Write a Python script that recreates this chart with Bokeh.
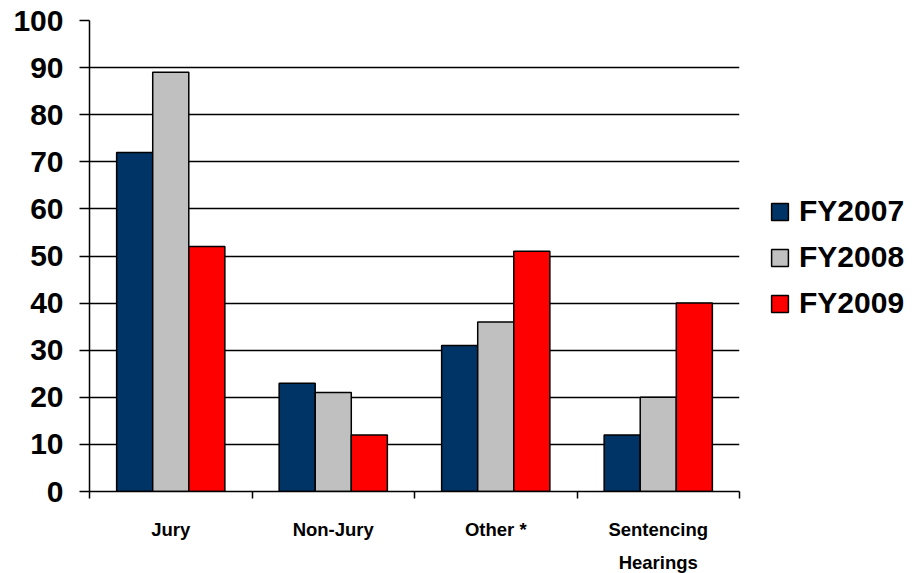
from bokeh.plotting import figure
from bokeh.models import ColumnDataSource, FixedTicker, Range1d, Legend, LegendItem
from bokeh.embed import file_html
from bokeh.resources import INLINE

categories = ["Jury", "Non-Jury", "Other *", "Sentencing\nHearings"]
series = ["FY2007", "FY2008", "FY2009"]
fy2007 = [72, 23, 31, 12]
fy2008 = [89, 21, 36, 20]
fy2009 = [52, 12, 51, 40]
colors = ["#003366", "#C0C0C0", "#FF0000"]
y_ticks = [0, 10, 20, 30, 40, 50, 60, 70, 80, 90, 100]

FONT = "Liberation Sans"
p = figure(frame_width=650, frame_height=471, output_backend="svg", toolbar_location=None,
           x_range=Range1d(0, len(categories)), y_range=Range1d(0, 100),
           min_border_left=89, min_border_right=0, min_border_top=20, min_border_bottom=80)
p.outline_line_color = None
p.background_fill_color = "white"
p.border_fill_color = "white"

bar_w = 0.222
offsets = [-bar_w, 0.0, bar_w]
items = []
for name, vals, col, off in zip(series, [fy2007, fy2008, fy2009], colors, offsets):
    src = ColumnDataSource(dict(x=[i + 0.5 + off for i in range(len(categories))], top=vals))
    r = p.vbar(x="x", top="top", bottom=0, width=bar_w, source=src,
               fill_color=col, line_color="black", line_width=1.5)
    items.append(LegendItem(label=name, renderers=[r]))

# x axis: labels at category centres, ticks at boundaries
p.xaxis.ticker = FixedTicker(ticks=[i + 0.5 for i in range(len(categories))],
                             minor_ticks=list(range(len(categories) + 1)))
p.xaxis.major_label_overrides = {i + 0.5: c for i, c in enumerate(categories)}
p.xaxis.major_tick_line_color = None
p.xaxis.major_tick_out = 0
p.xaxis.major_tick_in = 0
p.xaxis.minor_tick_out = 7
p.xaxis.minor_tick_in = 0
p.xaxis.minor_tick_line_color = "black"
p.xaxis.minor_tick_line_width = 1.5
p.xaxis.axis_line_color = "black"
p.xaxis.axis_line_width = 1.5
p.xaxis.major_label_text_font = FONT
p.xaxis.major_label_text_font_style = "bold"
p.xaxis.major_label_text_font_size = "18.5px"
p.xaxis.major_label_text_color = "black"
p.xaxis.major_label_text_line_height = 1.6
p.xaxis.major_label_standoff = 20

p.yaxis.ticker = FixedTicker(ticks=y_ticks, minor_ticks=[])
p.yaxis.major_tick_out = 10
p.yaxis.major_tick_in = 0
p.yaxis.major_tick_line_color = "black"
p.yaxis.major_tick_line_width = 1.5
p.yaxis.axis_line_color = "black"
p.yaxis.axis_line_width = 1.5
p.yaxis.major_label_text_font = FONT
p.yaxis.major_label_text_font_style = "bold"
p.yaxis.major_label_text_font_size = "30px"
p.yaxis.major_label_text_color = "black"
p.yaxis.major_label_standoff = 16

p.xgrid.grid_line_color = None
p.ygrid.grid_line_color = "black"
p.ygrid.grid_line_width = 1.5

legend = Legend(items=items, location=(30, 171), border_line_color=None,
                background_fill_alpha=0, padding=0, margin=0,
                glyph_width=21, glyph_height=21, label_height=21, spacing=12,
                label_standoff=9,
                label_text_font=FONT, label_text_font_style="bold",
                label_text_font_size="30px", label_text_color="black")
p.add_layout(legend, "right")

open("out.html", "w").write(file_html(p, INLINE))
